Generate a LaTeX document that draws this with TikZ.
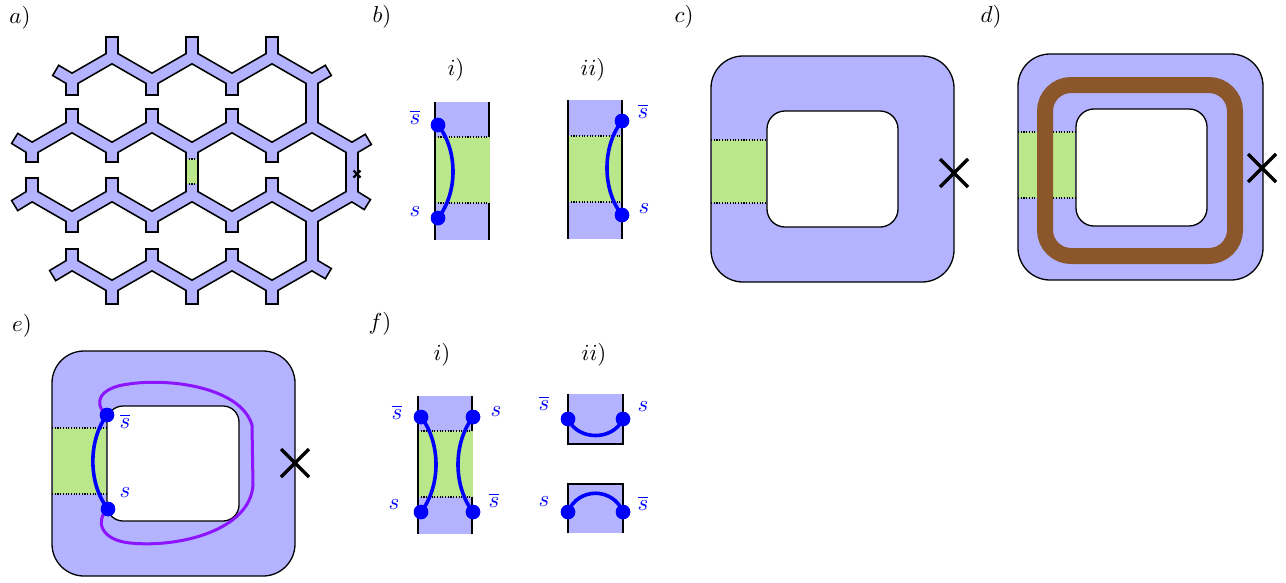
\documentclass[tikz,border=0pt]{standalone}
\definecolor{lblue}{RGB}{179,179,255}
\definecolor{lgreen}{RGB}{187,231,139}
\definecolor{brownring}{RGB}{139,87,42}
\definecolor{purp}{RGB}{140,20,255}
\newcommand\biglbl[1]{\scalebox{2.3}{$#1$}}
\newcommand\latnet[3]{%
 % row 1
 \draw[#1] (55,70)--(72,80)--(112,57)--(152,80)--(192,57)--(232,80)--(272,57)--(312,80)--(329,70);
 \draw[#2] (112,57)--(112,36); \draw[#2] (192,57)--(192,36); \draw[#2] (272,57)--(272,36);
 \draw[#2] (72,80)--(72,96); \draw[#2] (152,80)--(152,96); \draw[#2] (232,80)--(232,96);
 \draw[#3] (312,80)--(312,126);
 % row 2
 \draw[#1] (14,138)--(32,149)--(72,126)--(112,149)--(152,126)--(192,149)--(232,126)--(272,149)--(312,126)--(352,149)--(369,139);
 \draw[#2] (72,126)--(72,108); \draw[#2] (152,126)--(152,108); \draw[#2] (232,126)--(232,108);
 \draw[#2] (32,149)--(32,163); \draw[#2] (112,149)--(112,163); \draw[#2] (272,149)--(272,163);
 \draw[#3] (192,149)--(192,195); \draw[#3] (352,149)--(352,195);
 % row 3
 \draw[#1] (14,206)--(32,195)--(72,218)--(112,195)--(152,218)--(192,195)--(232,218)--(272,195)--(312,218)--(352,195)--(368,205);
 \draw[#2] (32,195)--(32,177); \draw[#2] (112,195)--(112,177); \draw[#2] (272,195)--(272,177);
 \draw[#2] (72,218)--(72,233); \draw[#2] (152,218)--(152,233); \draw[#2] (232,218)--(232,233);
 \draw[#3] (312,218)--(312,264);
 % row 4
 \draw[#1] (52,276)--(72,264)--(112,287)--(152,264)--(192,287)--(232,264)--(272,287)--(312,264)--(329,274);
 \draw[#2] (72,264)--(72,248); \draw[#2] (152,264)--(152,248); \draw[#2] (232,264)--(232,248);
 \draw[#2] (112,287)--(112,305); \draw[#2] (192,287)--(192,305); \draw[#2] (272,287)--(272,305);
}
\begin{document}
\begin{tikzpicture}[x=1pt,y=-1pt,
  lab/.style={inner sep=0pt},
  slab/.style={lab, text=blue},
  rb/.style={draw=black, line width=13.4pt, line join=miter, line cap=butt},
  rf/.style={draw=lblue, line width=10pt, line join=miter, line cap=butt},
  dotline/.style={line width=1.1pt, dash pattern=on 1.1pt off 1.6pt},
  sdot/.style={circle, fill=blue, inner sep=0pt, minimum size=14.5pt},
  strand/.style={draw=blue, line width=3.6pt},
  cross/.style={line width=3.5pt},
  outl/.style={draw=black, line width=1.3pt},
]
\useasboundingbox (0,0) rectangle (1286,582);

% ---------- labels ----------
\node[lab] (la) at (20,18) {\biglbl{a)}};
\node[lab] (lb) at (382,17) {\biglbl{b)}};
\node[lab] (lc) at (684,17) {\biglbl{c)}};
\node[lab] (ld) at (991,17) {\biglbl{d)}};
\node[lab] (le) at (22,326) {\biglbl{e)}};
\node[lab] (lf) at (380,324) {\biglbl{f)}};

% ---------- a) lattice ----------
\latnet{rb}{rb}{rb}
\latnet{rf, shorten <=1.7pt, shorten >=1.7pt}{rf, shorten >=1.7pt}{rf}
\fill[lgreen] (187,159) rectangle (197,184);
\draw[dotline] (186,159)--(198,159) (186,184)--(198,184);
\draw[line width=2.3pt] (353.5,170.5)--(360.5,177.5) (353.5,177.5)--(360.5,170.5);

% ---------- b) ----------
\node[lab] (bt1) at (456,70) {\biglbl{i)}};
\node[lab] (bt2) at (593,70) {\biglbl{ii)}};
% i
\fill[lblue] (435,102) rectangle (489,240);
\fill[lgreen] (435,137) rectangle (489.6,203);
\draw[dotline] (435,137)--(489,137) (435,203)--(489,203);
\draw[outl] (435,102)--(435,240);
\draw[outl] (489,102)--(489,137) (489,203)--(489,240);
\node[sdot] (bi1) at (438,125) {};
\node[sdot] (bi2) at (438,218) {};
\draw[strand] (bi1.center) .. controls (458,150) and (458,193) .. (bi2.center);
\node[sdot] at (bi1) {};
\node[sdot] at (bi2) {};
\node[slab] (bl1) at (415,117) {\biglbl{\overline{s}}};
\node[slab] (bl2) at (415,212) {\biglbl{s}};
% ii
\fill[lblue] (568,100) rectangle (622,239);
\fill[lgreen] (568,136) rectangle (622,202);
\draw[dotline] (568,136)--(622,136) (568,202)--(622,202);
\draw[outl] (568,100)--(568,239) (622,100)--(622,239);
\node[sdot] (bj1) at (622,121) {};
\node[sdot] (bj2) at (622,215) {};
\draw[strand] (bj1.center) .. controls (602,146) and (602,190) .. (bj2.center);
\node[sdot] at (bj1) {};
\node[sdot] at (bj2) {};
\node[slab] (bl3) at (643,111) {\biglbl{\overline{s}}};
\node[slab] (bl4) at (644,209) {\biglbl{s}};

% ---------- c) ----------
\draw[outl, fill=lblue, rounded corners=32pt] (711,56) rectangle (954,282);
\draw[outl, fill=white, rounded corners=18pt] (767,111) rectangle (898,227);
\fill[lgreen] (711.7,140) rectangle (766.3,203);
\draw[dotline] (711,140)--(767,140) (711,203)--(767,203);
\draw[cross] (940,159)--(968,187) (940,187)--(968,159);

% ---------- d) ----------
\draw[outl, fill=lblue, rounded corners=32pt] (1018,54) rectangle (1263,280);
\draw[outl, fill=white, rounded corners=18pt] (1076,109) rectangle (1207,226);
\fill[lgreen] (1018.7,132) rectangle (1075.3,198);
\draw[dotline] (1018,132)--(1076,132) (1018,198)--(1076,198);
\draw[brownring, line width=16pt, rounded corners=26pt] (1045,85) rectangle (1235,256);
\draw[cross] (1248,154)--(1276,182) (1248,182)--(1276,154);

% ---------- e) ----------
\draw[outl, fill=lblue, rounded corners=32pt] (52,351) rectangle (295,576);
\draw[outl, fill=white, rounded corners=16pt] (107,406) rectangle (239,521);
\fill[lgreen] (52.7,428) rectangle (106.3,494);
\draw[dotline] (52,428)--(107,428) (52,494)--(107,494);
\draw[cross] (281,449)--(309,477) (281,477)--(309,449);
\node[sdot] (e1) at (107,415) {};
\node[sdot] (e2) at (108,509) {};
\draw[purp, line width=3pt] (e1.center) .. controls (97,408) and (94,393) .. (118,386)
  .. controls (160,376) and (240,385) .. (252,425) -- (253,485)
  .. controls (250,530) and (180,548) .. (130,543)
  .. controls (100,540) and (95,520) .. (e2.center);
\draw[strand] (e1.center) .. controls (88,440) and (88,484) .. (e2.center);
\node[sdot] at (e1) {};
\node[sdot] at (e2) {};
\node[slab] (el1) at (125,421) {\biglbl{\overline{s}}};
\node[slab] (el2) at (125,493) {\biglbl{s}};

% ---------- f) ----------
\node[lab] (ft1) at (442,355) {\biglbl{i)}};
\node[lab] (ft2) at (594,355) {\biglbl{ii)}};
% i
\fill[lblue] (418,396) rectangle (472,534);
\fill[lgreen] (418,431) rectangle (473,497);
\draw[dotline] (418,431)--(472,431) (418,497)--(472,497);
\draw[outl] (418,396)--(418,534);
\draw[outl] (472,396)--(472,431) (472,497)--(472,534);
\node[sdot] (f1) at (421,417) {};
\node[sdot] (f2) at (421,512) {};
\node[sdot] (f3) at (473,417) {};
\node[sdot] (f4) at (473,512) {};
\draw[strand] (f1.center) .. controls (441,443) and (441,486) .. (f2.center);
\draw[strand] (f3.center) .. controls (453,443) and (453,486) .. (f4.center);
\node[sdot] at (f1) {};
\node[sdot] at (f2) {};
\node[sdot] at (f3) {};
\node[sdot] at (f4) {};
\node[slab] (fl1) at (397,412) {\biglbl{\overline{s}}};
\node[slab] (fl2) at (496,412) {\biglbl{s}};
\node[slab] (fl3) at (394,505) {\biglbl{s}};
\node[slab] (fl4) at (494,500) {\biglbl{\overline{s}}};
% ii top
\fill[lblue] (568,394) rectangle (623,444);
\draw[outl] (568,394)--(568,444)--(623,444)--(623,394);
\node[sdot] (g1) at (568,419) {};
\node[sdot] (g2) at (623,419) {};
\draw[strand] (g1.center) .. controls (578,441) and (613,441) .. (g2.center);
\node[sdot] at (g1) {};
\node[sdot] at (g2) {};
\node[slab] (gl1) at (544,403) {\biglbl{\overline{s}}};
\node[slab] (gl2) at (643,407) {\biglbl{s}};
% ii bottom
\fill[lblue] (568,484) rectangle (623,533);
\draw[outl] (568,533)--(568,484)--(623,484)--(623,533);
\node[sdot] (h1) at (568,512) {};
\node[sdot] (h2) at (623,512) {};
\draw[strand] (h1.center) .. controls (578,487) and (613,487) .. (h2.center);
\node[sdot] at (h1) {};
\node[sdot] at (h2) {};
\node[slab] (hl1) at (544,502) {\biglbl{s}};
\node[slab] (hl2) at (643,503) {\biglbl{\overline{s}}};
\end{tikzpicture}
\end{document}
